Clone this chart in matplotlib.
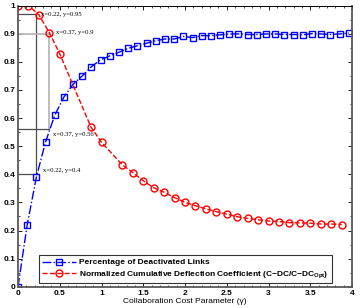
import matplotlib
matplotlib.use('Agg')
import matplotlib.pyplot as plt
from matplotlib.ticker import MultipleLocator

# ─── Datos ────────────────────────────────────────────────────────────────────

gamma_links = [0.00, 0.11, 0.22, 0.33, 0.44, 0.55, 0.66, 0.77, 0.88, 0.99,
               1.10, 1.21, 1.32, 1.43, 1.54, 1.65, 1.76, 1.87, 1.98, 2.09,
               2.20, 2.31, 2.42, 2.53, 2.64, 2.75, 2.86, 2.97, 3.08, 3.19,
               3.30, 3.41, 3.52, 3.63, 3.74, 3.85, 3.96]
deactivated = [0.0, 0.22, 0.39, 0.515, 0.61, 0.675, 0.72, 0.75, 0.783, 0.807,
               0.821, 0.834, 0.848, 0.857, 0.866, 0.875, 0.881, 0.881, 0.89, 0.886,
               0.893, 0.893, 0.896, 0.899, 0.899, 0.897, 0.897, 0.899, 0.899, 0.897,
               0.897, 0.896, 0.9, 0.899, 0.897, 0.899, 0.902]

gamma_defl = [0.0, 0.125, 0.25, 0.375, 0.5, 0.875, 1.0, 1.25, 1.375, 1.5,
              1.625, 1.75, 1.875, 2.0, 2.125, 2.25, 2.375, 2.5, 2.625, 2.75,
              2.875, 3.0, 3.125, 3.25, 3.375, 3.5, 3.625, 3.75, 3.875]
deflection = [1.0, 1.0, 0.967, 0.904, 0.828, 0.567, 0.514, 0.433, 0.406, 0.377,
              0.352, 0.336, 0.317, 0.300, 0.288, 0.277, 0.267, 0.258, 0.249, 0.243,
              0.238, 0.234, 0.232, 0.228, 0.227, 0.226, 0.223, 0.223, 0.221]

x_ticks = [0, 0.5, 1, 1.5, 2, 2.5, 3, 3.5, 4]
x_labels = ['0', '0.5', '1', '1.5', '2', '2.5', '3', '3.5', '4']
y_ticks = [0, 0.1, 0.2, 0.3, 0.4, 0.5, 0.6, 0.7, 0.8, 0.9, 1]
y_labels = ['0', '0.1', '0.2', '0.3', '0.4', '0.5', '0.6', '0.7', '0.8', '0.9', '1']

# datatips (texto, posicion del texto)
tips = [('x=0.22, y=0.95', 0.275, 0.967),
        ('x=0.37, y=0.9', 0.46, 0.905),
        ('x=0.37, y=0.56', 0.415, 0.543),
        ('x=0.22, y=0.4', 0.30, 0.412)]

plt.rcParams['font.family'] = 'Liberation Sans'
plt.rcParams['font.weight'] = 'bold'
plt.rcParams['mathtext.fontset'] = 'custom'
plt.rcParams['mathtext.rm'] = 'Liberation Sans:bold'
plt.rcParams['mathtext.default'] = 'rm'

fig = plt.figure(figsize=(3.6, 3.08), dpi=100)
ax = fig.add_axes([0.05, 0.069, 0.928, 0.913])

# lineas de los datatips
ax.plot([0, 0.215], [0.97, 0.97], color='0.3', lw=0.9)
ax.plot([0.215, 0.215], [0.40, 0.97], color='0.3', lw=0.9)
ax.plot([0, 0.215], [0.40, 0.40], color='0.3', lw=0.9)
ax.plot([0, 0.37], [0.90, 0.90], color='0.7', lw=1.2)
ax.plot([0.37, 0.37], [0.56, 0.90], color='0.7', lw=1.2)
ax.plot([0, 0.37], [0.56, 0.56], color='0.3', lw=0.9)

ax.plot(gamma_links, deactivated, '-.', color='blue', lw=1.0,
        marker='s', ms=5, mfc='none', mew=1.0,
        label='Percentage of Deactivated Links')
ax.plot(gamma_defl, deflection, '--', color='red', lw=1.0,
        marker='o', ms=5, mfc='none', mew=1.0,
        label='Normalized Cumulative Deflection Coefficient (C\u2212DC/C\u2212DC$_{Opt}$)')

for txt, tx, ty in tips:
    ax.text(tx, ty, txt, fontsize=4.8, family='Liberation Serif',
            fontweight='normal', va='center', ha='left')

ax.set_xlim(0, 4)
ax.set_ylim(0, 1)
ax.set_xticks(x_ticks, x_labels)
ax.set_yticks(y_ticks, y_labels)
ax.xaxis.set_minor_locator(MultipleLocator(0.1))
ax.yaxis.set_minor_locator(MultipleLocator(0.05))
ax.tick_params(which='both', direction='in', top=True, right=True, labelsize=6, pad=2)
ax.tick_params(which='major', length=3, width=0.6)
ax.tick_params(which='minor', length=1.5, width=0.5)
for s in ['left', 'right', 'bottom']:
    ax.spines[s].set_linewidth(1.3)
    ax.spines[s].set_color('0.35')
ax.spines['top'].set_linewidth(0.7)

ax.set_xlabel('Collaboration Cost Parameter (\u03b3)', fontsize=6, labelpad=1)

leg = ax.legend(loc='lower left', bbox_to_anchor=(0.063, 0.013), borderaxespad=0,
                fontsize=6, fancybox=False, edgecolor='black', handlelength=4,
                borderpad=0.4, labelspacing=0.3, handletextpad=0.4)
leg.get_frame().set_linewidth(0.8)

plt.savefig('out.png', dpi=100)
plt.close()
